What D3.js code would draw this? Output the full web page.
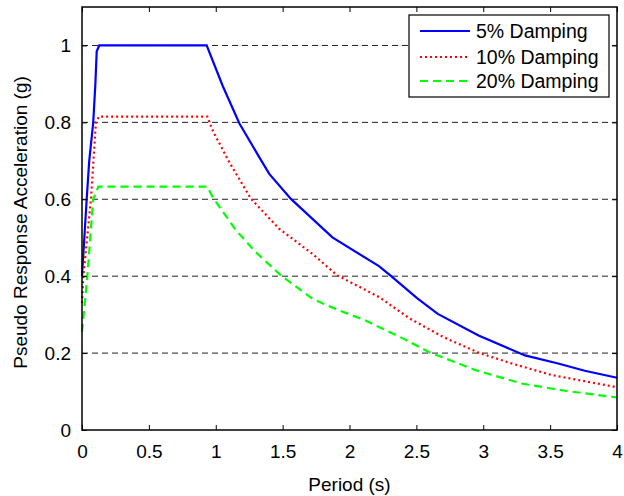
<!DOCTYPE html>
<html>
<head>
<meta charset="utf-8">
<script src="https://cdn.jsdelivr.net/npm/d3@7"></script>
<style>
  html, body { margin: 0; padding: 0; background: #fff; }
  svg { display: block; font-family: "Liberation Sans", Arial, Helvetica, sans-serif; }
</style>
</head>
<body>
<svg id="chart" width="624" height="496"></svg>
<script>
// ---- data ----
const xTicks = [0, 0.5, 1, 1.5, 2, 2.5, 3, 3.5, 4];
const xTickLabels = ["0", "0.5", "1", "1.5", "2", "2.5", "3", "3.5", "4"];
const yTicks = [0, 0.2, 0.4, 0.6, 0.8, 1];
const yTickLabels = ["0", "0.2", "0.4", "0.6", "0.8", "1"];
const gridValues = [0.2, 0.4, 0.6, 0.8, 1];

const period5 = [0, 0.035, 0.054, 0.084, 0.100, 0.110, 0.129, 0.932, 1.053, 1.177, 1.326, 1.400, 1.562, 1.872, 2.220, 2.305, 2.505, 2.660, 2.965, 3.312, 3.560, 3.759, 4.0];
const sa5     = [0.40, 0.60, 0.70, 0.80, 0.90, 0.985, 1.0, 1.0, 0.894, 0.797, 0.709, 0.666, 0.601, 0.501, 0.426, 0.402, 0.343, 0.302, 0.246, 0.194, 0.173, 0.154, 0.136];

const period10 = [0, 0.010, 0.067, 0.104, 0.127, 0.937, 0.978, 1.102, 1.264, 1.475, 1.723, 1.909, 2.220, 2.450, 2.700, 2.965, 3.213, 3.511, 3.958, 4.0];
const sa10     = [0.33, 0.40, 0.60, 0.80, 0.815, 0.815, 0.778, 0.696, 0.601, 0.523, 0.458, 0.402, 0.346, 0.290, 0.242, 0.201, 0.173, 0.143, 0.114, 0.111];

const period20 = [0, 0.040, 0.084, 0.122, 0.937, 0.978, 1.152, 1.301, 1.487, 1.723, 1.922, 2.120, 2.220, 2.418, 2.592, 2.940, 3.287, 3.610, 3.970, 4.0];
const sa20     = [0.255, 0.40, 0.60, 0.633, 0.633, 0.605, 0.519, 0.462, 0.402, 0.341, 0.311, 0.285, 0.268, 0.235, 0.203, 0.156, 0.121, 0.102, 0.086, 0.085];

const seriesNames = ["5% Damping", "10% Damping", "20% Damping"];
const xLabel = "Period (s)";
const yLabel = "Pseudo Response Acceleration (g)";

// ---- layout ----
const svg = d3.select("#chart");
const margin = {left: 82, right: 7, top: 7, bottom: 66};
const W = 624, H = 496;
const x = d3.scaleLinear().domain([0, 4]).range([margin.left, W - margin.right]);
const y = d3.scaleLinear().domain([0, 1.1]).range([H - margin.bottom, margin.top]);

const series = [
  {name: seriesNames[0], px: period5, py: sa5, color: "#0000ff", dash: null},
  {name: seriesNames[1], px: period10, py: sa10, color: "#ff0000", dash: "2,3"},
  {name: seriesNames[2], px: period20, py: sa20, color: "#00ff00", dash: "8,5"}
];

// grid
svg.append("g").selectAll("line").data(gridValues).join("line")
  .attr("x1", x(0)).attr("x2", x(4))
  .attr("y1", d => y(d)).attr("y2", d => y(d))
  .attr("stroke", "#222").attr("stroke-width", 1).attr("stroke-dasharray", "6,4");

// lines
const line = d3.line().x(d => x(d[0])).y(d => y(d[1]));
svg.append("g").selectAll("path").data(series).join("path")
  .attr("d", s => line(s.px.map((v, i) => [v, s.py[i]])))
  .attr("fill", "none")
  .attr("stroke", s => s.color)
  .attr("stroke-width", 2.2)
  .attr("stroke-dasharray", s => s.dash);

// axes
const fs = 19;
const xb = d3.axisBottom(x).tickValues(xTicks).tickFormat((d, i) => xTickLabels[i]).tickSizeInner(-5).tickSizeOuter(0).tickPadding(15);
const xt = d3.axisTop(x).tickValues(xTicks).tickFormat("").tickSizeInner(-5).tickSizeOuter(0);
const yl = d3.axisLeft(y).tickValues(yTicks).tickFormat((d, i) => yTickLabels[i]).tickSizeInner(-5).tickSizeOuter(0).tickPadding(11);
const yr = d3.axisRight(y).tickValues(yTicks).tickFormat("").tickSizeInner(-5).tickSizeOuter(0);

function style(g) {
  g.selectAll("path.domain").remove();
  g.selectAll("line").attr("stroke", "#000");
  g.selectAll("text").attr("font-size", fs).attr("fill", "#000").attr("font-family", "Liberation Sans, Arial, sans-serif");
}
svg.append("g").attr("transform", `translate(0,${y(0)})`).call(xb).call(style);
svg.append("g").attr("transform", `translate(0,${y(1.1)})`).call(xt).call(style);
svg.append("g").attr("transform", `translate(${x(0)},0)`).call(yl).call(style);
svg.append("g").attr("transform", `translate(${x(4)},0)`).call(yr).call(style);

// box
svg.append("rect").attr("x", x(0)).attr("y", y(1.1)).attr("width", x(4) - x(0)).attr("height", y(0) - y(1.1))
  .attr("fill", "none").attr("stroke", "#000").attr("stroke-width", 1.5);

// axis labels
svg.append("text").attr("x", (x(0) + x(4)) / 2).attr("y", 491).attr("text-anchor", "middle")
  .attr("font-size", fs).text(xLabel);
svg.append("text").attr("transform", `translate(27,${(y(0) + y(1.1)) / 2 + 4}) rotate(-90)`).attr("text-anchor", "middle")
  .attr("font-size", fs).text(yLabel);

// legend
const lg = svg.append("g");
lg.append("rect").attr("x", 409).attr("y", 15).attr("width", 200).attr("height", 82)
  .attr("fill", "#fff").attr("stroke", "#000").attr("stroke-width", 1.2);
const rowsY = [31, 57, 81];
series.forEach((s, i) => {
  lg.append("line").attr("x1", 420).attr("x2", 470).attr("y1", rowsY[i]).attr("y2", rowsY[i])
    .attr("stroke", s.color).attr("stroke-width", 2.2).attr("stroke-dasharray", s.dash);
  lg.append("text").attr("x", 476).attr("y", rowsY[i]).attr("dy", "0.36em")
    .attr("font-size", 19.5).text(s.name);
});
</script>
</body>
</html>
